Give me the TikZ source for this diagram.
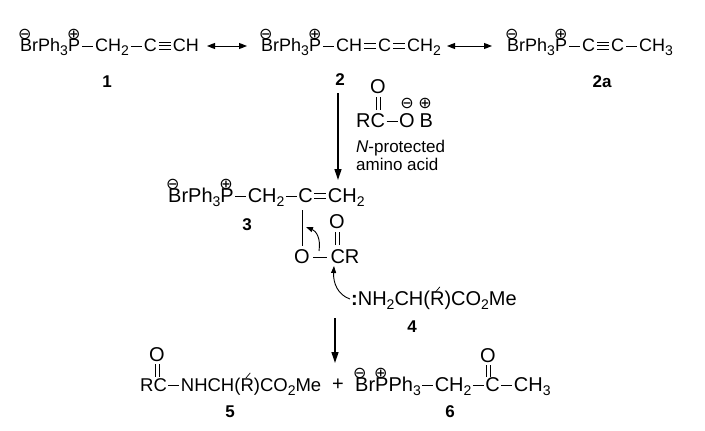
\documentclass[tikz,border=0pt]{standalone}
\usepackage{fontspec}
\setmainfont{Liberation Sans}
\newfontfamily\dv{DejaVu Sans}
\usetikzlibrary{arrows.meta}
\newcommand\chg[2]{\makebox[0pt][l]{\hspace{#1}\raisebox{13pt}{\fontsize{16}{16}\dv #2}}}
\newcommand\cm{\chg{-2pt}{⊖}}
\newcommand\cp{\chg{-1pt}{⊕}}
\newcommand\sbs[1]{\raisebox{-4pt}{\fontsize{14}{14}\selectfont #1}}
\newlength\bk \setlength\bk{1.5pt}
\newcommand\sg{\kern\bk\rule[5.5pt]{11pt}{0.8pt}\kern\bk}
\newcommand\db{\kern\bk\makebox[12pt][l]{\rule[3.5pt]{12pt}{0.8pt}\hspace{-12pt}\rule[8pt]{12pt}{0.8pt}}\kern\bk}
\newcommand\tb{\kern\bk\makebox[12pt][l]{\rule[2.5pt]{12pt}{0.8pt}\hspace{-12pt}\rule[5.8pt]{12pt}{0.8pt}\hspace{-12pt}\rule[9.1pt]{12pt}{0.8pt}}\kern\bk}
\newcommand\Rp{\makebox[0pt][l]{\hspace{5pt}\raisebox{13pt}{\rotatebox{-40}{\rule{0.7pt}{7pt}}}}R}
\begin{document}
\begin{tikzpicture}[x=1pt,y=-1pt,font=\fontsize{20}{22}\selectfont,
  m/.style={anchor=base west,inner sep=0pt},
  lab/.style={font=\fontsize{17}{18}\selectfont\bfseries},
  arr/.style={-{Triangle[length=11pt,width=7pt]},line width=1.3pt},
  dbl/.style={line width=0.9pt},
  row1/.style={m,font=\fontsize{18}{20}\selectfont}]
\useasboundingbox (0,0) rectangle (705,431);
\setlength\bk{2pt}
\node[row1] (c1) at (20,52) {\cm BrPh\sbs3\cp P\sg CH\sbs2\sg C\tb CH};
\node[lab] (l1) at (107,82) {1};
\node[row1] (c2) at (261,52) {\cm BrPh\sbs3\cp P\sg CH\db C\db CH\sbs2};
\node[lab] (l2) at (340,80) {2};
\node[row1] (c2a) at (507,52) {\cm BrPh\sbs3\cp P\sg C\tb C\sg CH\sbs3};
\node[lab] (l2a) at (602,82) {2a};
\draw[{Triangle[length=8pt,width=6pt]}-{Triangle[length=8pt,width=6pt]},line width=1pt] (207,46) -- (247,46);
\draw[{Triangle[length=8pt,width=6pt]}-{Triangle[length=8pt,width=6pt]},line width=1pt] (447,46) -- (492,46);
\setlength\bk{1.5pt}
% reagent
\node[m] (rg) at (356,127) {RC\sg O\hspace{5pt}B};
\node (o1) at (378,87) {O};
\draw[dbl] (376,97) -- (376,110) (380,97) -- (380,110);
\node at (407,103) {\fontsize{16}{16}\dv ⊖};
\node at (425,103) {\fontsize{16}{16}\dv ⊕};
\node[anchor=west,inner sep=0pt,font=\fontsize{17}{18}\selectfont,align=left] (np) at (356,155) {\textit{N}-protected\\amino acid};
\coordinate (a1s) at (338,93);
\coordinate (a1e) at (338,180);
\draw[arr] (a1s) -- (a1e);
% compound 3
\node[m] (c3) at (168,202) {\cm BrPh\sbs3\cp P\sg CH\sbs2\sg C\db CH\sbs2};
\node[lab] (l3) at (247,225) {3};
\node (o3) at (302,257) {O};
\node (cr) at (345,257) {CR};
\draw[line width=0.9pt] (o3.east) -- (cr.west);
\draw[line width=0.9pt] (302,210) -- (o3.north);
\node (o4) at (337,222) {O};
\draw[dbl] (335,232) -- (335,245) (339,232) -- (339,245);
\draw[-{Triangle[length=7pt,width=5pt]},line width=0.9pt] (319,251) .. controls (321,238) and (316,231) .. (306,227);
\node[m] (c4) at (351,305) {\textbf{:}NH\sbs2CH(\Rp)CO\sbs2Me};
\draw[-{Triangle[length=7pt,width=5pt]},line width=0.9pt] (350,299) .. controls (338,295) and (333,283) .. (334,266);
\node[lab] (l4) at (412,327) {4};
\coordinate (a2s) at (335,318);
\coordinate (a2e) at (335,363);
\draw[arr] (a2s) -- (a2e);
% bottom
\node[m,font=\fontsize{18.5}{21}\selectfont] (c5) at (140,391) {RC\sg NHCH(\Rp)CO\sbs2Me};
\node (o5) at (157,355) {O};
\draw[dbl] (155,364) -- (155,377) (159,364) -- (159,377);
\node (plus) at (338,385) {+};
\node[m] (c6) at (355,391) {\cm Br\cp PPh\sbs3\sg CH\sbs2\sg C\sg CH\sbs3};
\node (o6) at (488,356) {O};
\draw[dbl] (486,365) -- (486,377) (490,365) -- (490,377);
\node[lab] (l5) at (230,412) {5};
\node[lab] (l6) at (450,412) {6};
\end{tikzpicture}
\end{document}
